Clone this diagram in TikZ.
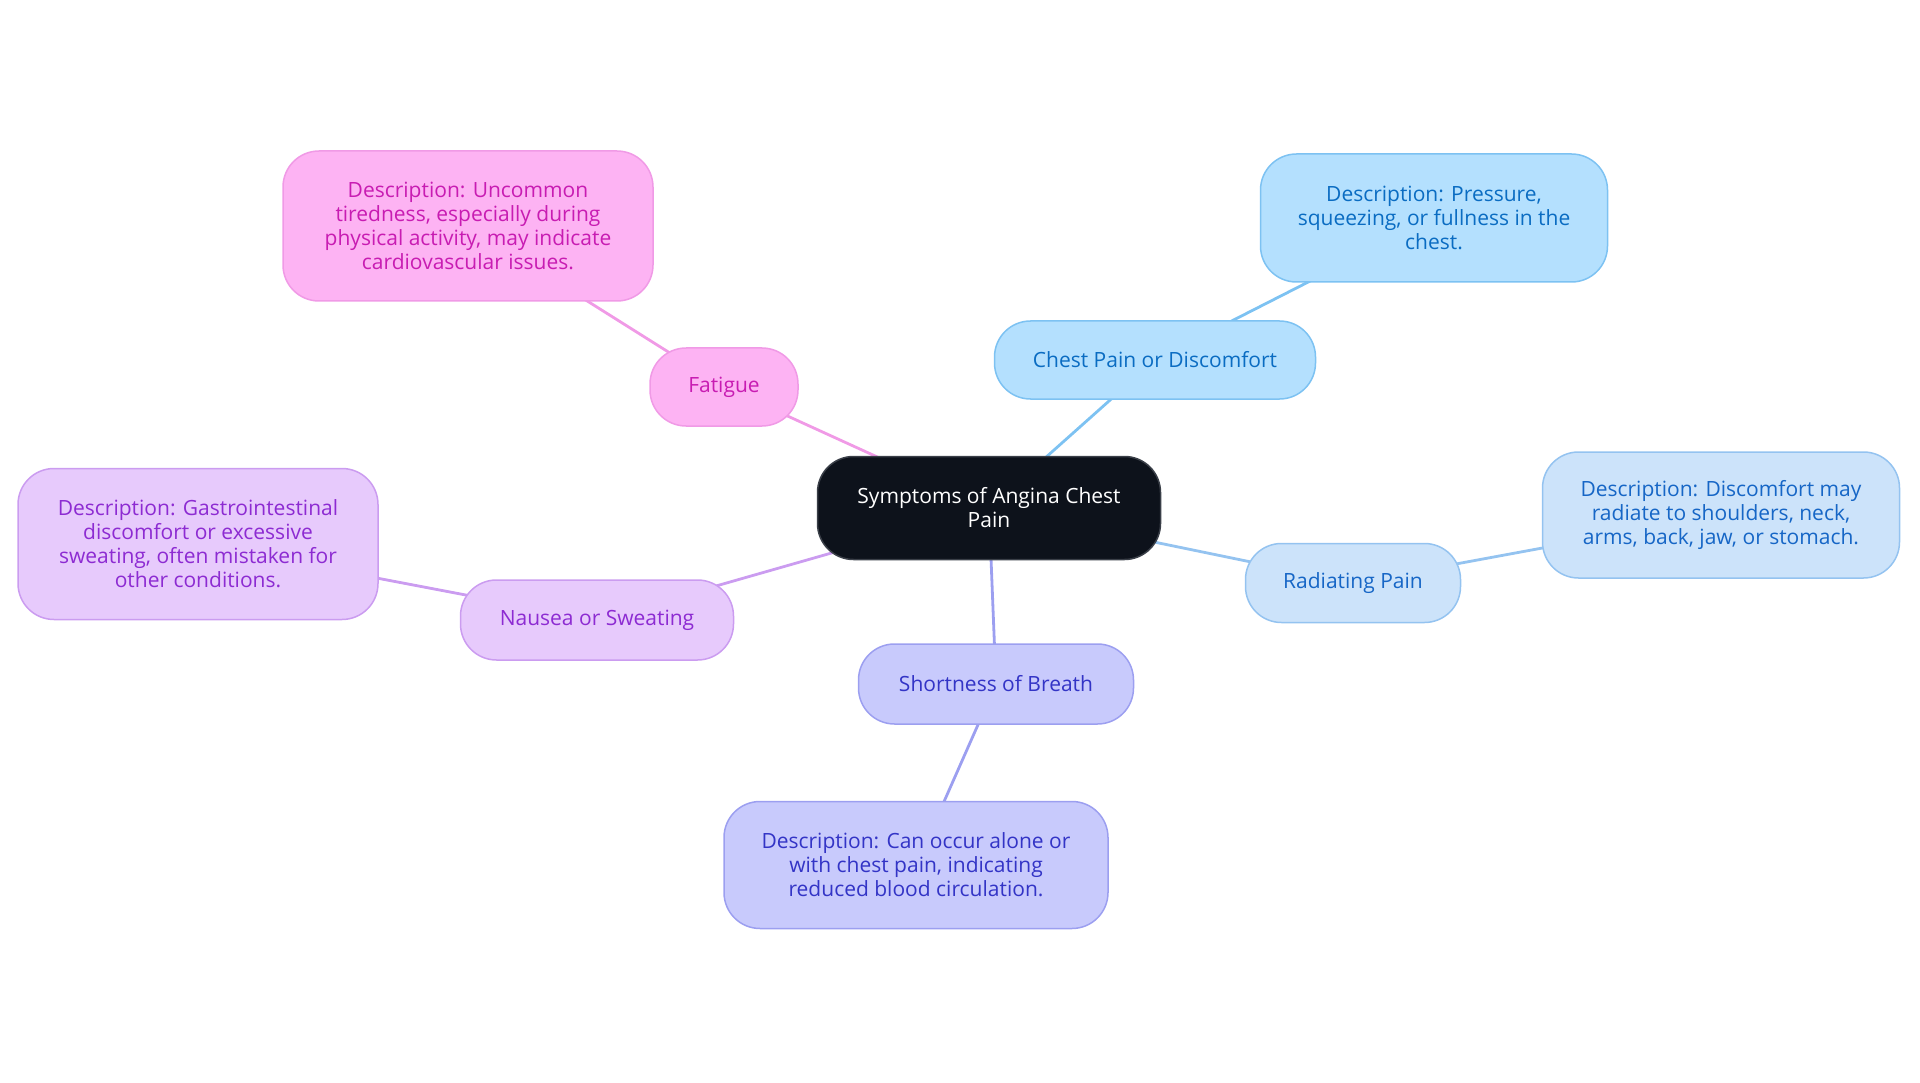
\documentclass[tikz,border=0pt]{standalone}
\usepackage{fontspec}
\setmainfont{Open Sans}
\usetikzlibrary{backgrounds}

\definecolor{hubfill}{HTML}{0D121B}
\definecolor{hubline}{HTML}{3A3F48}
\definecolor{pinkfill}{HTML}{FDB3F3}
\definecolor{pinkline}{HTML}{F09AE6}
\definecolor{pinktext}{HTML}{C81CB2}
\definecolor{skyfill}{HTML}{B4E0FE}
\definecolor{skyline}{HTML}{7DC2F2}
\definecolor{skytext}{HTML}{0A6CC2}
\definecolor{icefill}{HTML}{CCE3FA}
\definecolor{iceline}{HTML}{94C3F0}
\definecolor{icetext}{HTML}{1666C6}
\definecolor{lilacfill}{HTML}{E7CAFC}
\definecolor{lilacline}{HTML}{CB9CF0}
\definecolor{lilactext}{HTML}{8D2BD2}
\definecolor{perifill}{HTML}{C8CAFC}
\definecolor{periline}{HTML}{9C9FF0}
\definecolor{peritext}{HTML}{3334C6}

\begin{document}
\begin{tikzpicture}[
  x=1pt, y=-1pt,
  font=\fontsize{21}{24}\selectfont,
  line cap=round, line join=round,
  box/.style={
    rectangle, rounded corners=36pt,
    align=center, inner sep=4pt,
    line width=1.5pt
  },
  hub/.style={box, draw=hubline, fill=hubfill, text=white,
    minimum width=343pt, minimum height=103pt},
  pinkst/.style={box, draw=pinkline, fill=pinkfill, text=pinktext},
  skyst/.style={box, draw=skyline, fill=skyfill, text=skytext},
  icest/.style={box, draw=iceline, fill=icefill, text=icetext},
  lilacst/.style={box, draw=lilacline, fill=lilacfill, text=lilactext},
  perist/.style={box, draw=periline, fill=perifill, text=peritext},
  link/.style={line width=2.8pt}
]
\useasboundingbox (0,0) rectangle (1920,1083);

% =========================================================================
% Stred
% =========================================================================
\node[hub] (hub) at (989, 508) {Symptoms of Angina Chest\\ Pain};

% =========================================================================
% Vetvy
% =========================================================================
% Chest Pain
\node[skyst, minimum width=321pt, minimum height=78pt] (chest) at (1155, 360) {Chest Pain or Discomfort};
\node[skyst, minimum width=347pt, minimum height=128pt] (chestdesc) at (1434, 218) {%
  Description: Pressure,\\ squeezing, or fullness in the\\ chest.};

% Radiating Pain
\node[icest, minimum width=215pt, minimum height=79pt] (radiating) at (1353, 583) {Radiating Pain};
\node[icest, minimum width=357pt, minimum height=126pt] (radiatingdesc) at (1721, 515) {%
  Description: Discomfort may\\ radiate to shoulders, neck,\\ arms, back, jaw, or stomach.};

% Shortness of Breath
\node[perist, minimum width=275pt, minimum height=80pt] (breath) at (996, 684) {Shortness of Breath};
\node[perist, minimum width=384pt, minimum height=127pt] (breathdesc) at (916, 865) {%
  Description: Can occur alone or\\ with chest pain, indicating\\ reduced blood circulation.};

% Nausea or Sweating
\node[lilacst, minimum width=273pt, minimum height=80pt] (nausea) at (597, 620) {Nausea or Sweating};
\node[lilacst, minimum width=360pt, minimum height=151pt] (nauseadesc) at (198, 544) {%
  Description: Gastrointestinal\\ discomfort or excessive\\ sweating, often mistaken for\\ other conditions.};

% Fatigue
\node[pinkst, minimum width=148pt, minimum height=78pt] (fatigue) at (724, 387) {Fatigue};
\node[pinkst, minimum width=370pt, minimum height=150pt] (fatiguedesc) at (468, 226) {%
  Description: Uncommon\\ tiredness, especially during\\ physical activity, may indicate\\ cardiovascular issues.};

% =========================================================================
% Spojnice (stred -> stred, pod uzlami)
% =========================================================================
\begin{scope}[on background layer]
  \draw[link, skyline]   (hub.center) -- (chest.center);
  \draw[link, skyline]   (chest.center) -- (chestdesc.center);
  \draw[link, iceline]   (hub.center) -- (radiating.center);
  \draw[link, iceline]   (radiating.center) -- (radiatingdesc.center);
  \draw[link, periline]  (hub.center) -- (breath.center);
  \draw[link, periline]  (breath.center) -- (breathdesc.center);
  \draw[link, lilacline] (hub.center) -- (nausea.center);
  \draw[link, lilacline] (nausea.center) -- (nauseadesc.center);
  \draw[link, pinkline]  (hub.center) -- (fatigue.center);
  \draw[link, pinkline]  (fatigue.center) -- (fatiguedesc.center);
\end{scope}

\end{tikzpicture}
\end{document}
